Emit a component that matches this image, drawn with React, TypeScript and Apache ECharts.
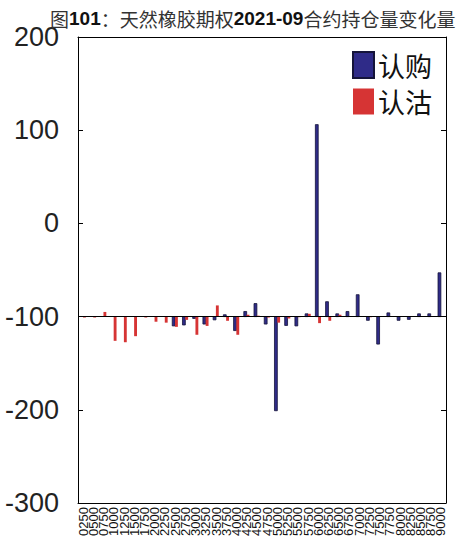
import React, { useEffect, useRef } from "react";
import * as echarts from "echarts";

const STRIKES = [
  "0250", "0500", "0750", "1000", "1250", "1500", "1750", "2000", "2250",
  "2500", "2750", "3000", "3250", "3500", "3750", "4000", "4250", "4500",
  "4750", "5000", "5250", "5500", "5750", "6000", "6250", "6500", "6750",
  "7000", "7250", "7500", "7750", "8000", "8250", "8500", "8750", "9000",
];

// change in open interest, drawn from the baseline at -100
const CALL_CHANGE = [
  0, 0, 0, 0, 0, 0, 0, 0, 0,
  -10, -9, -2, -8, -3.5, 2, -15, 5.5, 14,
  -8, -101, -9.5, -10, 3, 206, 16, 3, 5.5,
  23.5, -4, -29.5, 4, -4, -3, 3, 3, 47,
];
const PUT_CHANGE = [
  -1, -1, 5, -26, -27.5, -21, -1, -5.5, -6.5,
  -11, -3.5, -19.5, -10, 12, -4.5, -19.5, 2, 1,
  -1, -6.5, -2, -0.5, 3, -7, -4.5, 2, 0.5,
  0.5, -0.5, 0.5, 0.5, 0.5, 0.5, 0.5, 0.5, 0.5,
];
const BASE = -100;
const Y_MIN = -300;
const Y_MAX = 200;
const Y_STEP = 100;
const SERIES_NAMES = ["认购", "认沽"];

const CALL_COLOR = "#2f2b88";
const CALL_BORDER = "#15143a";
const PUT_COLOR = "#d63434";

function makeRender(offset: number, fill: string, stroke: string | null) {
  return (params: any, api: any) => {
    const idx = api.value(0);
    const v = api.value(1);
    if (v === 0) return null;
    const p0 = api.coord([idx, BASE]);
    const p1 = api.coord([idx, BASE + v]);
    const bw = api.size([1, 0])[0];
    const w = bw * 0.28;
    const cx = p0[0] + offset * bw;
    return {
      type: "rect",
      shape: {
        x: cx - w / 2,
        y: Math.min(p0[1], p1[1]),
        width: w,
        height: Math.max(Math.abs(p1[1] - p0[1]), 0.6),
      },
      style: stroke
        ? { fill, stroke, lineWidth: 0.8 }
        : { fill },
    };
  };
}

export default function App() {
  const ref = useRef<HTMLDivElement>(null);
  useEffect(() => {
    if (!ref.current) return;
    const chart = echarts.init(ref.current, undefined, { renderer: "svg" });
    const font = "'Liberation Sans', Arial, sans-serif";
    const xAxisBase = {
      type: "category",
      data: STRIKES,
      boundaryGap: true,
      axisLine: { onZero: false, lineStyle: { color: "#000", width: 1 } },
      axisTick: {
        inside: true,
        alignWithLabel: true,
        length: 5,
        interval: 0,
        lineStyle: { color: "#000" },
      },
    };
    chart.setOption({
      animation: false,
      backgroundColor: "#ffffff",
      title: {
        left: 45,
        top: 4,
        text: "图{b|101}：天然橡胶期权{b|2021-09}合约持仓量变化量",
        textStyle: {
          fontSize: 19,
          fontWeight: "normal",
          color: "#333",
          fontFamily: "'Noto Sans CJK SC', sans-serif",
          rich: {
            b: {
              fontSize: 19,
              fontWeight: "bold",
              color: "#111",
              fontFamily: font,
            },
          },
        },
      },
      legend: {
        orient: "vertical",
        left: 352,
        top: 51,
        padding: 0,
        itemWidth: 21,
        itemHeight: 26,
        itemGap: 9,
        icon: "rect",
        textStyle: {
          fontSize: 27,
          color: "#111",
          fontFamily: "'Noto Sans CJK SC', sans-serif",
          padding: [0, 0, 0, -1],
        },
        data: SERIES_NAMES,
      },
      grid: { left: 78, right: 12, top: 37, bottom: 42 },
      xAxis: [
        {
          ...xAxisBase,
          position: "bottom",
          axisLabel: {
            rotate: 90,
            interval: 0,
            fontSize: 13,
            margin: 4,
            color: "#111",
            fontFamily: font,
          },
        },
        {
          ...xAxisBase,
          position: "top",
          axisLabel: { show: false },
        },
      ],
      yAxis: [
        {
          type: "value",
          min: Y_MIN,
          max: Y_MAX,
          interval: Y_STEP,
          axisLine: { show: true, onZero: false, lineStyle: { color: "#000", width: 1 } },
          axisTick: { show: true, inside: true, length: 5, lineStyle: { color: "#000" } },
          splitLine: { show: false },
          axisLabel: {
            fontSize: 27,
            margin: 19,
            color: "#222",
            fontFamily: font,
          },
        },
        {
          type: "value",
          position: "right",
          min: Y_MIN,
          max: Y_MAX,
          interval: Y_STEP,
          axisLine: { show: true, onZero: false, lineStyle: { color: "#000", width: 1 } },
          axisTick: { show: true, inside: true, length: 5, lineStyle: { color: "#000" } },
          splitLine: { show: false },
          axisLabel: { show: false },
        },
      ],
      series: [
        {
          name: SERIES_NAMES[0],
          type: "custom",
          xAxisIndex: 0,
          yAxisIndex: 0,
          itemStyle: { color: CALL_COLOR, borderColor: CALL_BORDER, borderWidth: 1 },
          renderItem: makeRender(-0.14, CALL_COLOR, CALL_BORDER),
          encode: { x: 0, y: 1 },
          data: CALL_CHANGE.map((v, i) => [i, v]),
          z: 3,
        },
        {
          name: SERIES_NAMES[1],
          type: "custom",
          xAxisIndex: 0,
          yAxisIndex: 0,
          itemStyle: { color: PUT_COLOR },
          renderItem: makeRender(0.13, PUT_COLOR, null),
          encode: { x: 0, y: 1 },
          data: PUT_CHANGE.map((v, i) => [i, v]),
          z: 3,
          markLine: {
            silent: true,
            symbol: ["none", "none"],
            label: { show: false },
            lineStyle: { color: "#000", type: "solid", width: 1.2 },
            data: [{ yAxis: BASE }],
            z: 4,
          },
        },
      ],
    });
    return () => chart.dispose();
  }, []);
  return (
    <div
      ref={ref}
      style={{ position: "fixed", left: 0, top: 0, width: 458, height: 545 }}
    />
  );
}
